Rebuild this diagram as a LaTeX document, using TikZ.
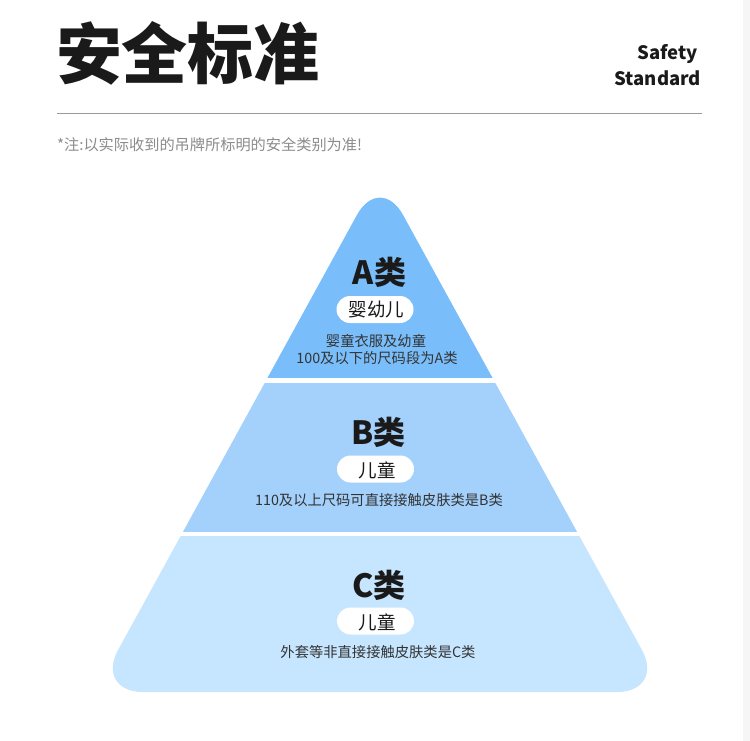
\documentclass[tikz,border=0pt]{standalone}
\usepackage{fontspec}
\setmainfont{Noto Sans CJK SC}
\newfontfamily\cjk{Noto Sans CJK SC}
\definecolor{tierA}{HTML}{79BEFA}
\definecolor{tierB}{HTML}{A3D1FC}
\definecolor{tierC}{HTML}{C6E5FE}
\definecolor{titlec}{HTML}{1A1A1A}
\definecolor{descc}{HTML}{333333}
\definecolor{notec}{HTML}{8C8C8C}
\definecolor{rulec}{HTML}{9A9A9A}
\definecolor{stripc}{HTML}{F6F6F6}
\begin{document}
\begin{tikzpicture}[x=1pt,y=-1pt,
  txt/.style={inner sep=0pt, outer sep=0pt, anchor=base},
  tiername/.style={txt, text=titlec, font=\cjk\bfseries\fontsize{32}{32}\selectfont},
  pillbox/.style={fill=white, rounded corners=13.5pt, minimum width=77pt, minimum height=27pt, inner sep=0pt},
  pilltext/.style={txt, text=titlec, font=\cjk\fontsize{18.5}{18.5}\selectfont},
  desc/.style={txt, text=descc, font=\cjk\fontsize{14.3}{14.3}\selectfont},
  pyr/.style={rounded corners=48pt}]
\useasboundingbox (0,0) rectangle (750,741);
\fill[white] (0,0) rectangle (750,741);
\fill[stripc] (743,0) rectangle (750,741);

% header
\node[txt, anchor=base west, text=titlec, font=\cjk\bfseries\fontsize{66}{66}\selectfont] (title) at (56,79) {安全标准};
\node[txt, anchor=base east, text=titlec, font=\cjk\bfseries\fontsize{18.5}{18.5}\selectfont] (sub1) at (698,60) {Safety};
\node[txt, anchor=base east, text=titlec, font=\cjk\bfseries\fontsize{18.5}{18.5}\selectfont] (sub2) at (701,86) {Standard};
\coordinate (ruleL) at (57,113.5);
\coordinate (ruleR) at (702,113.5);
\draw[rulec, line width=1.8pt] (ruleL) -- (ruleR);
\node[txt, anchor=base west, text=notec, font=\cjk\fontsize{15.2}{15.2}\selectfont] (note) at (57,150.5) {*注:以实际收到的吊牌所标明的安全类别为准!};

% pyramid tiers
\begin{scope}
  \clip (0,0) rectangle (750,377);
  \fill[tierA, pyr] (380,692) -- (95,692) -- (380,173) -- (665,692) -- cycle;
\end{scope}
\begin{scope}
  \clip (0,383) rectangle (750,531);
  \fill[tierB, pyr] (380,692) -- (95,692) -- (380,173) -- (665,692) -- cycle;
\end{scope}
\begin{scope}
  \clip (0,536) rectangle (750,741);
  \fill[tierC, pyr] (380,692) -- (95,692) -- (380,173) -- (665,692) -- cycle;
\end{scope}

% tier A
\node[tiername] (nameA) at (379.5,284) {A类};
\node[pillbox] (pillA) at (375,309.5) {};
\node[pilltext] (pillAt) at (376.5,316.5) {婴幼儿};
\node[desc] (descA1) at (376,346) {婴童衣服及幼童};
\node[desc] (descA2) at (377,363.5) {100及以下的尺码段为A类};

% tier B
\node[tiername] (nameB) at (378.5,444) {B类};
\node[pillbox] (pillB) at (375.5,469) {};
\node[pilltext] (pillBt) at (377,477) {儿童};
\node[desc] (descB) at (379,505.5) {110及以上尺码可直接接触皮肤类是B类};

% tier C
\node[tiername] (nameC) at (379,597) {C类};
\node[pillbox] (pillC) at (375.5,621) {};
\node[pilltext] (pillCt) at (377,629) {儿童};
\node[desc] (descC) at (378,657) {外套等非直接接触皮肤类是C类};
\end{tikzpicture}
\end{document}
